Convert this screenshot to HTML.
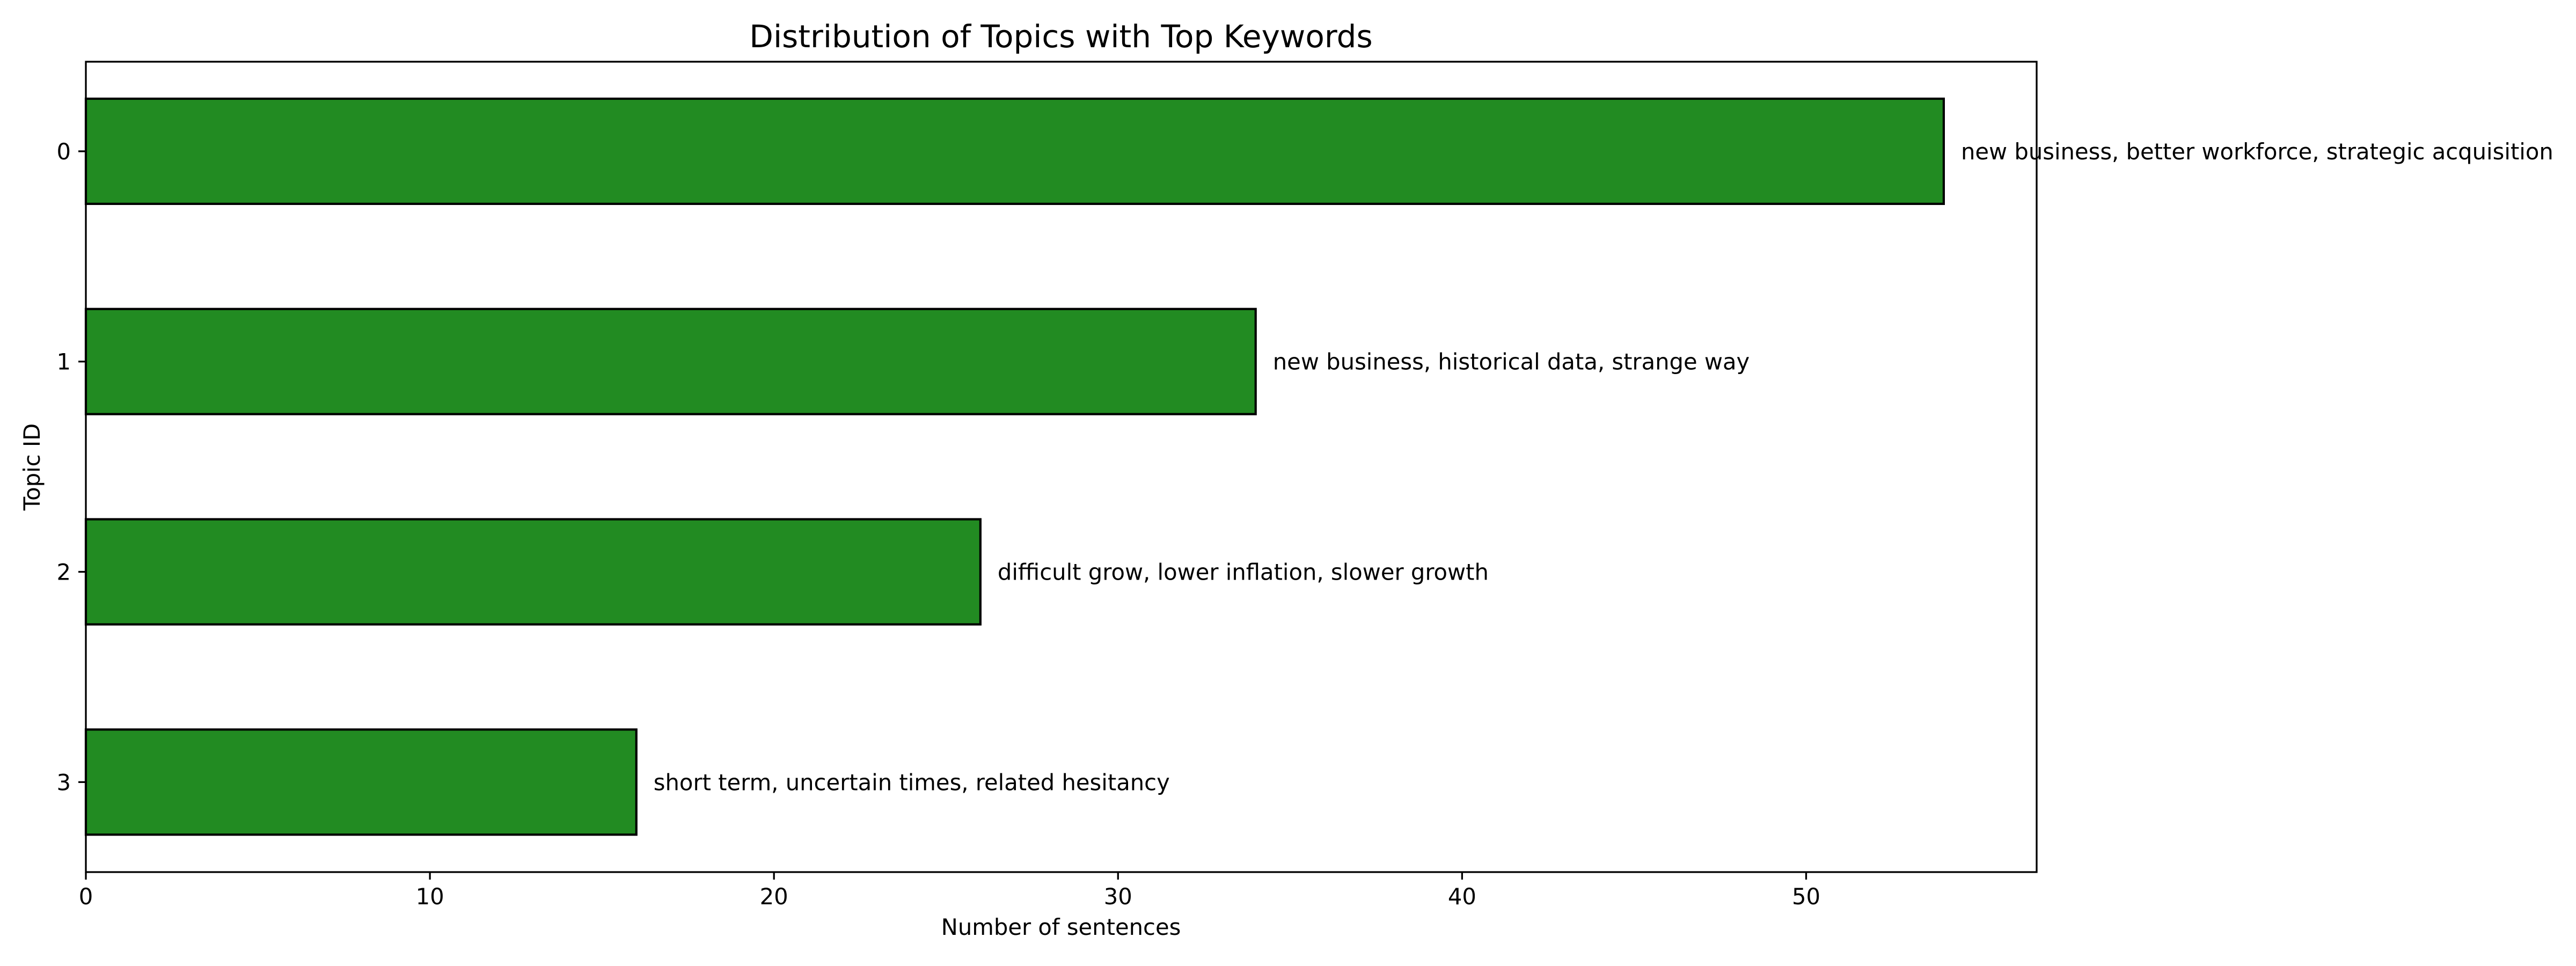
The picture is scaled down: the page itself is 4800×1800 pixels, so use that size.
<!DOCTYPE html>
<html><head><meta charset="utf-8">
<style>
html,body{margin:0;padding:0;background:#fff;}
svg{display:block;}
text{font-family:"DejaVu Sans","Liberation Sans",sans-serif;fill:#000;}
</style></head>
<body>
<svg id="chart" width="4800" height="1800" viewBox="0 0 4800 1800" xmlns="http://www.w3.org/2000/svg">
<text x="1977" y="88" font-size="58" text-anchor="middle">Distribution of Topics with Top Keywords</text>
<g id="plot"></g>
<text x="1977" y="1742" font-size="41.7" text-anchor="middle">Number of sentences</text>
<text x="0" y="0" font-size="41.7" text-anchor="middle" transform="translate(74,870) rotate(-90)">Topic ID</text>
</svg>
<script>
const topics = ["0","1","2","3"];
const counts = [54, 34, 26, 16];
const keywords = [
  "new business, better workforce, strategic acquisition",
  "new business, historical data, strange way",
  "difficult grow, lower inflation, slower growth",
  "short term, uncertain times, related hesitancy"
];
const xTicks = [0,10,20,30,40,50];

const L=160, R=3795, T=115, B=1625;
const xMin=0, xMax=56.7, yMin=-0.426, yMax=3.428;
function xs(v){return L+(v-xMin)/(xMax-xMin)*(R-L);}
function ys(v){return T+(v-yMin)/(yMax-yMin)*(B-T);}
const NS="http://www.w3.org/2000/svg";
const g=document.getElementById('plot');
function mk(tag,attrs){const e=document.createElementNS(NS,tag);for(const k in attrs)e.setAttribute(k,attrs[k]);g.appendChild(e);return e;}

topics.forEach((t,i)=>{
  const y0=ys(i-0.25), y1=ys(i+0.25);
  const bar=mk('rect',{x:xs(0),y:y0,width:xs(counts[i])-xs(0),height:y1-y0,fill:'#228b22',stroke:'#000','stroke-width':4.2});
  
  
  const lab=mk('text',{x:xs(counts[i]+0.5),y:ys(i)+15,'font-size':41.7});
  lab.textContent=keywords[i];
  
  
  const tk=mk('line',{x1:L-14,x2:L,y1:ys(i),y2:ys(i),stroke:'#000','stroke-width':3.3});
  
  
  const tl=mk('text',{x:L-28,y:ys(i)+15,'font-size':41.7,'text-anchor':'end'});
  tl.textContent=t;
  
  
});
xTicks.forEach(v=>{
  const tk=mk('line',{x1:xs(v),x2:xs(v),y1:B,y2:B+14,stroke:'#000','stroke-width':3.3});
  
  
  const tl=mk('text',{x:xs(v),y:B+60,'font-size':41.7,'text-anchor':'middle'});
  tl.textContent=String(v);
  
  
});
const frame=mk('rect',{x:L,y:T,width:R-L,height:B-T,fill:'none',stroke:'#000','stroke-width':3.3});


</script>
</body></html>
